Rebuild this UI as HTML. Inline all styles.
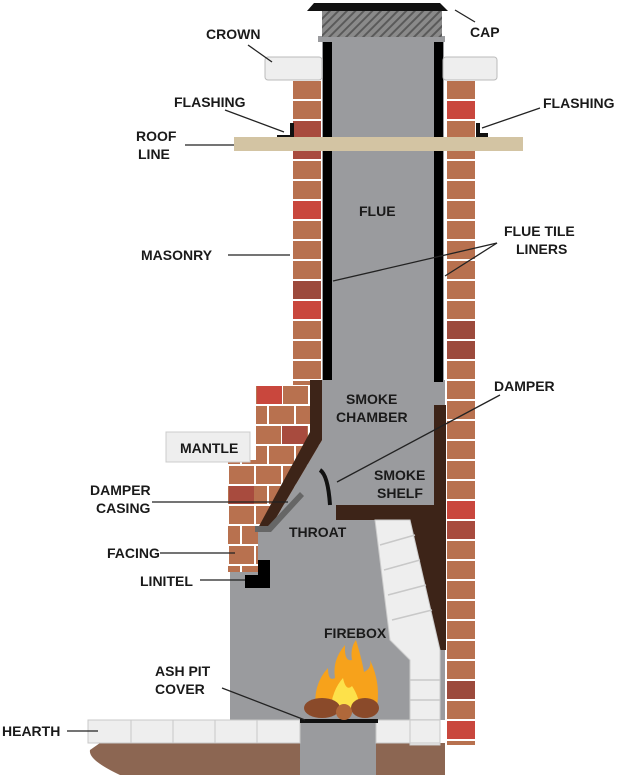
<!DOCTYPE html>
<html><head><meta charset="utf-8"><style>
html,body{margin:0;padding:0;background:#fff;}
svg{display:block}
text{font-family:"Liberation Sans",Arial,sans-serif;font-weight:bold;font-size:14px;fill:#1a1a1a}
</style></head><body>
<svg width="623" height="775" viewBox="0 0 623 775" xmlns="http://www.w3.org/2000/svg">
<defs>
<pattern id="brL" x="292" y="80" width="30" height="20" patternUnits="userSpaceOnUse">
<rect width="30" height="20" fill="#fff"/><rect x="1" y="1" width="28" height="18" fill="#b8714f"/>
</pattern>
<pattern id="brR" x="446" y="80" width="30" height="20" patternUnits="userSpaceOnUse">
<rect width="30" height="20" fill="#fff"/><rect x="1" y="1" width="28" height="18" fill="#b8714f"/>
</pattern>
<pattern id="br2" x="228" y="385" width="54" height="40" patternUnits="userSpaceOnUse">
<rect width="54" height="40" fill="#fff"/>
<rect x="1" y="1" width="25" height="18" fill="#b8714f"/><rect x="28" y="1" width="25" height="18" fill="#b8714f"/>
<rect x="-13" y="21" width="25" height="18" fill="#b8714f"/><rect x="14" y="21" width="25" height="18" fill="#b8714f"/><rect x="41" y="21" width="25" height="18" fill="#b8714f"/>
</pattern>
<pattern id="hatch" width="6" height="6" patternUnits="userSpaceOnUse" patternTransform="rotate(45)">
<rect width="6" height="6" fill="#8a8a8a"/><rect width="2" height="6" fill="#5a5a5a"/>
</pattern>
</defs>

<!-- hearth base -->
<path d="M100,743 H300 V775 H120 Q88,760 90,750 Z" fill="#8c6652"/>
<rect x="375" y="743" width="70" height="32" fill="#8c6652"/>
<!-- ash pit -->
<rect x="300" y="720" width="76" height="55" fill="#9a9b9e"/>

<!-- right brick column -->
<rect x="446" y="80" width="30" height="665" fill="url(#brR)"/>
<rect x="447" y="101" width="28" height="18" fill="#c9473d"/>
<rect x="447" y="321" width="28" height="18" fill="#9c4a3c"/>
<rect x="447" y="341" width="28" height="18" fill="#9c4a3c"/>
<rect x="447" y="501" width="28" height="18" fill="#c9473d"/>
<rect x="447" y="521" width="28" height="18" fill="#a84b3e"/>
<rect x="447" y="681" width="28" height="18" fill="#9c4a3c"/>
<rect x="447" y="721" width="28" height="18" fill="#c9473d"/>
<!-- left brick column -->
<rect x="292" y="80" width="30" height="310" fill="url(#brL)"/>
<rect x="293" y="121" width="28" height="18" fill="#a84b3e"/>
<rect x="293" y="141" width="28" height="18" fill="#a84b3e"/>
<rect x="293" y="201" width="28" height="18" fill="#c9473d"/>
<rect x="293" y="281" width="28" height="18" fill="#9c4a3c"/>
<rect x="293" y="301" width="28" height="18" fill="#c9473d"/>
<!-- lower left brick mass -->
<path d="M256,385 H322 V560 L270,572 H228 V460 H256 Z" fill="url(#br2)"/>
<rect x="257" y="386" width="25" height="18" fill="#c9473d"/>
<rect x="282" y="426" width="25" height="18" fill="#a84b3e"/>
<rect x="229" y="486" width="25" height="18" fill="#a84b3e"/>

<!-- flue gray -->
<rect x="322" y="38" width="122" height="350" fill="#9a9b9e"/>
<!-- chamber / firebox gray -->
<path d="M322,380 H445 V720 H230 V572 H258 V530 L270,528 L322,440 Z" fill="#9a9b9e"/>

<!-- dark lining left -->
<path d="M310,380 H322 V440 L270,528 H258 L310,432 Z" fill="#3d2418"/>
<!-- dark lining right + smoke shelf -->
<path d="M434,405 H446 V650 H436 L410,520 H336 V505 H434 Z" fill="#3d2418"/>
<!-- damper casing -->
<path d="M300,492 L268,526 H255 V532 H271 L304,496 Z" fill="#666"/>
<!-- damper -->
<path d="M320,470 Q328,475 330,505" stroke="#111" stroke-width="4" fill="none"/>

<!-- firebrick -->
<path d="M375,520 H410 L440,650 V745 H410 V660 L390,640 Z" fill="#eeeeee" stroke="#ccc"/>
<g stroke="#c8c8c8" stroke-width="1.5">
<line x1="380" y1="545" x2="415" y2="535"/><line x1="384" y1="570" x2="420" y2="560"/>
<line x1="388" y1="595" x2="426" y2="585"/><line x1="392" y1="620" x2="432" y2="610"/>
<line x1="410" y1="680" x2="440" y2="680"/><line x1="410" y1="700" x2="440" y2="700"/><line x1="410" y1="720" x2="440" y2="720"/>
</g>
<!-- hearth tiles -->
<rect x="88" y="720" width="212" height="23" fill="#eeeeee" stroke="#c8c8c8"/>
<g stroke="#c8c8c8"><line x1="131" y1="720" x2="131" y2="743"/><line x1="173" y1="720" x2="173" y2="743"/><line x1="215" y1="720" x2="215" y2="743"/><line x1="257" y1="720" x2="257" y2="743"/></g>
<rect x="376" y="720" width="64" height="23" fill="#eeeeee" stroke="#c8c8c8"/>
<line x1="410" y1="720" x2="410" y2="743" stroke="#c8c8c8"/>
<!-- ash pit cover + fire -->
<rect x="300" y="719" width="78" height="4" fill="#111"/>
<path d="M316,712 Q312,685 328,668 Q328,682 335,678 Q332,660 345,645 Q344,662 352,660 Q350,648 356,640 Q362,660 364,672 Q372,668 370,660 Q382,685 376,712 Z" fill="#f7a21b"/>
<path d="M330,712 Q332,690 343,678 Q346,692 352,686 Q360,698 360,712 Z" fill="#fde14a"/>
<ellipse cx="322" cy="708" rx="18" ry="10" fill="#8a4a2a"/>
<ellipse cx="365" cy="708" rx="14" ry="10" fill="#8a4a2a"/>
<circle cx="344" cy="712" r="8" fill="#b0683a"/>

<!-- lintel -->
<path d="M245,575 V588 H270 V560 H258 V575 Z" fill="#000"/>

<!-- liners -->
<rect x="323" y="40" width="9" height="340" fill="#000"/>
<rect x="434" y="40" width="9" height="342" fill="#000"/>
<!-- cap -->
<rect x="318" y="36" width="127" height="6" fill="#9a9b9e"/>
<rect x="322" y="10" width="120" height="27" fill="url(#hatch)"/>
<path d="M307,11 L314,3 H440 L448,11 Z" fill="#111"/>
<!-- crowns -->
<rect x="265" y="57" width="57" height="23" rx="3" fill="#eeeeee" stroke="#bbb"/>
<rect x="443" y="57" width="54" height="23" rx="3" fill="#eeeeee" stroke="#bbb"/>
<!-- flashing -->
<path d="M277,135 H290 V123 H294 V137 H277 Z" fill="#111"/>
<path d="M476,123 H480 V133 H488 V137 H476 Z" fill="#111"/>
<!-- roof line -->
<rect x="234" y="137" width="289" height="14" fill="#d3c4a3"/>

<!-- mantle -->
<rect x="166" y="432" width="84" height="30" fill="#eeeeee" stroke="#ccc"/>
<text x="180" y="453">MANTLE</text>

<!-- labels & leaders -->
<g stroke="#222" stroke-width="1.3" fill="none">
<line x1="248" y1="45" x2="272" y2="62"/>
<line x1="455" y1="10" x2="475" y2="22"/>
<line x1="225" y1="110" x2="284" y2="132"/>
<line x1="540" y1="108" x2="482" y2="128"/>
<line x1="185" y1="145" x2="234" y2="145"/>
<line x1="228" y1="255" x2="290" y2="255"/>
<line x1="333" y1="281" x2="497" y2="243"/>
<line x1="445" y1="276" x2="497" y2="243"/>
<line x1="337" y1="482" x2="500" y2="395"/>
<line x1="152" y1="502" x2="288" y2="502"/>
<line x1="160" y1="553" x2="235" y2="553"/>
<line x1="200" y1="580" x2="245" y2="580"/>
<line x1="222" y1="688" x2="305" y2="720"/>
<line x1="67" y1="731" x2="98" y2="731"/>
</g>
<text x="206" y="39">CROWN</text>
<text x="470" y="37">CAP</text>
<text x="174" y="107">FLASHING</text>
<text x="543" y="108">FLASHING</text>
<text x="136" y="141">ROOF</text>
<text x="138" y="159">LINE</text>
<text x="359" y="216">FLUE</text>
<text x="141" y="260">MASONRY</text>
<text x="504" y="236">FLUE TILE</text>
<text x="516" y="254">LINERS</text>
<text x="494" y="391">DAMPER</text>
<text x="346" y="404">SMOKE</text>
<text x="336" y="422">CHAMBER</text>
<text x="374" y="480">SMOKE</text>
<text x="377" y="498">SHELF</text>
<text x="90" y="495">DAMPER</text>
<text x="96" y="513">CASING</text>
<text x="289" y="537">THROAT</text>
<text x="107" y="558">FACING</text>
<text x="140" y="586">LINITEL</text>
<text x="324" y="638">FIREBOX</text>
<text x="155" y="676">ASH PIT</text>
<text x="155" y="694">COVER</text>
<text x="2" y="736">HEARTH</text>
</svg>
</body></html>
